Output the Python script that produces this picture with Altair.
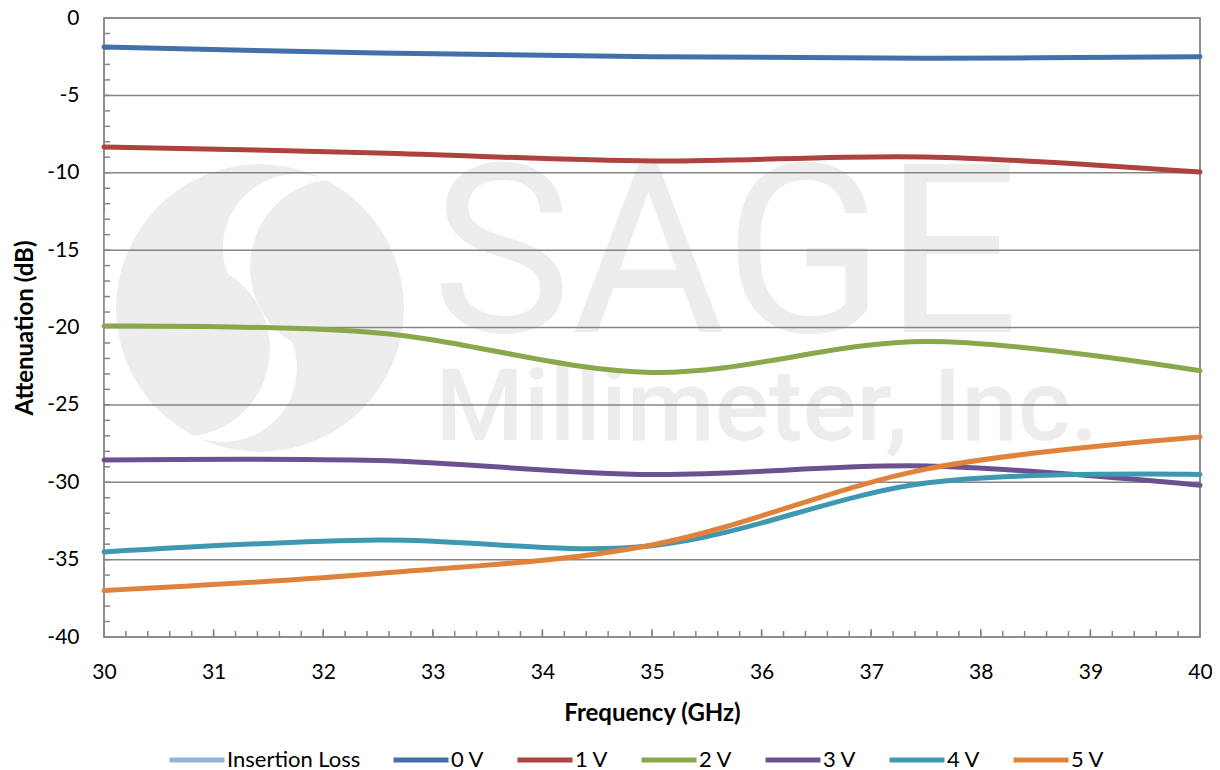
import altair as alt
import pandas as pd

# ---- data ----
freq_ghz = [30, 32.5, 35, 37.5, 40]
series_names = ["Insertion Loss", "0 V", "1 V", "2 V", "3 V", "4 V", "5 V"]
series_colors = ["#95b3d7", "#4470aa", "#ad423f", "#89a84b", "#6c5190", "#3f98b1", "#e08239"]
att_0v = [-1.87, -2.26, -2.50, -2.60, -2.50]
att_1v = [-8.33, -8.72, -9.24, -8.98, -9.95]
att_2v = [-19.90, -20.35, -22.90, -20.90, -22.80]
att_3v = [-28.56, -28.60, -29.50, -28.95, -30.20]
att_4v = [-34.50, -33.73, -34.10, -30.05, -29.50]
att_5v = [-37.00, -35.90, -34.05, -29.15, -27.08]

x_ticks = list(range(30, 41))
y_ticks = list(range(-40, 1, 5))
y_grid = list(range(-35, 0, 5))
y_minor = list(range(-40, 1))
x_minor = [30 + i / 5 for i in range(51)]
x_major = list(range(30, 41))

FONT = "Lato"
GRID = "#868686"
WM = "#ededed"

rows = []
for name, vals in [("0 V", att_0v), ("1 V", att_1v), ("2 V", att_2v),
                   ("3 V", att_3v), ("4 V", att_4v), ("5 V", att_5v)]:
    for f, v in zip(freq_ghz, vals):
        rows.append({"freq": f, "att": v, "series": name})
df = pd.DataFrame(rows)

W, H = 1096, 619
xscale = alt.Scale(domain=[30, 40], nice=False, zero=False)
yscale = alt.Scale(domain=[-40, 0], nice=False, zero=False)
one = pd.DataFrame({"k": [0]})

# ---- watermark logo (decorative, pixel placed) ----
def disk(cx, cy, d, color):
    return alt.Chart(one).mark_point(filled=True, shape="circle", opacity=1, color=color,
                                     size=d * d, strokeWidth=0, clip=True).encode(
        x=alt.value(cx), y=alt.value(cy))

wm_layers = [
    disk(156, 290, 288, WM),
    disk(193, 230, 148, "white"),
    disk(119, 350, 148, "white"),
    disk(234, 249, 176, WM),
    disk(78, 331, 176, WM),
    alt.Chart(one).mark_arc(color="white", clip=True).encode(
        x=alt.value(156), y=alt.value(290), theta=alt.value(0), theta2=alt.value(6.2832),
        radius=alt.value(182), radius2=alt.value(144)),
    alt.Chart(pd.DataFrame({"t": ["SAGE"]})).mark_text(
        font="Roboto", fontSize=236, color=WM, align="center", baseline="alphabetic")
    .encode(text="t:N", x=alt.value(621), y=alt.value(314)),
    alt.Chart(pd.DataFrame({"t": ["Millimeter, Inc."]})).mark_text(
        font="Roboto", fontSize=101, fontWeight=500, color=WM, align="center",
        baseline="alphabetic")
    .encode(text="t:N", x=alt.value(663), y=alt.value(422)),
]

# ---- frame, gridlines and minor ticks ----
frame = alt.Chart(one).mark_rect(filled=False, stroke=GRID, strokeWidth=1.5).encode(
    x=alt.value(0), x2=alt.value(W), y=alt.value(0), y2=alt.value(H))
grid = alt.Chart(pd.DataFrame({"g": y_grid})).mark_rule(color=GRID, strokeWidth=1.5).encode(
    y=alt.Y("g:Q", scale=yscale)
)
yminor = alt.Chart(pd.DataFrame({"m": y_minor})).mark_rule(color=GRID, strokeWidth=1.5).encode(
    y=alt.Y("m:Q", scale=yscale), x=alt.value(0), x2=alt.value(6)
)
xminor = alt.Chart(pd.DataFrame({"m": x_minor})).mark_rule(color=GRID, strokeWidth=1.5).encode(
    x=alt.X("m:Q", scale=xscale), y=alt.value(H - 6), y2=alt.value(H)
)
xmajor = alt.Chart(pd.DataFrame({"m": x_major})).mark_rule(color=GRID, strokeWidth=1.5).encode(
    x=alt.X("m:Q", scale=xscale), y=alt.value(H - 8), y2=alt.value(H)
)

axis_common = dict(grid=False, ticks=False, domain=False, labelFontSize=21, labelFont=FONT,
                   titleFont=FONT, titleFontWeight="bold", titleFontSize=24, labelFlush=False,
                   labelColor="black", titleColor="black", labelExpr="datum.value + ''")

lines = alt.Chart(df).mark_line(interpolate="cardinal", strokeWidth=5, strokeCap="round").encode(
    x=alt.X("freq:Q", scale=xscale,
            axis=alt.Axis(values=x_ticks, title="Frequency (GHz)", labelPadding=24,
                          titlePadding=19, **axis_common)),
    y=alt.Y("att:Q", scale=yscale,
            axis=alt.Axis(values=y_ticks, title="Attenuation (dB)", labelPadding=25,
                          titlePadding=9, **axis_common)),
    color=alt.Color("series:N", scale=alt.Scale(domain=series_names, range=series_colors),
                    legend=alt.Legend(title=None, orient="none", direction="horizontal",
                                      legendX=63, legendY=712, symbolType="stroke",
                                      symbolStrokeWidth=5, symbolSize=3025, labelFontSize=22,
                                      labelFont=FONT, labelColor="black", labelOffset=0,
                                      columnPadding=22, columns=7)),
)

chart = alt.layer(*wm_layers, frame, grid, yminor, xminor, xmajor, lines).properties(
    width=W, height=H,
    autosize=alt.AutoSizeParams(type="none"),
    padding={"left": 96, "top": 10, "right": 12, "bottom": 140},
).configure_view(stroke=GRID, strokeWidth=1.5)

chart.save("out.html", embed_options={"renderer": "svg", "actions": False})
